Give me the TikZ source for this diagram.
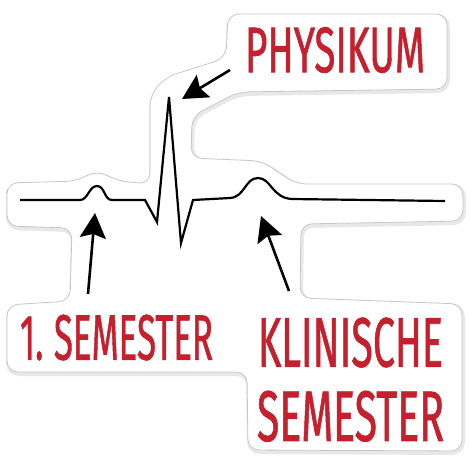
\documentclass[tikz,border=0pt]{standalone}
\usepackage{fontspec}
\setmainfont{Fira Sans}
\newfontfamily\handfont{Fira Sans}[FakeBold=1.2]
\usepackage{graphicx}
\usetikzlibrary{arrows.meta,positioning}
\definecolor{stickerred}{RGB}{197,32,46}
\tikzstyle{sticker}=[fill=white, draw=black!22, line width=0.8pt, rounded corners=11pt]
\tikzstyle{schatten}=[draw=black!9, line width=4pt, rounded corners=11pt]
\tikzstyle{wave}=[line width=2.2pt, draw=black, line join=miter]
\tikzstyle{pfeil}=[line width=2.6pt, -{Stealth[length=25pt,width=26pt,inset=4pt]}]
\tikzstyle{schrift}=[text=stickerred, inner sep=0pt, anchor=center, font=\handfont]
\newcommand{\stickerpath}[0]
{
  (7,200) -- (7,183) -- (78,181) -- (96,170) -- (118,181) -- (150,184) -- (150,95)
  -- (166,77) -- (226,58) -- (228,14) -- (447,14) -- (447,89) -- (238,92)
  -- (192,116) -- (191,158) -- (262,161) -- (296,184) -- (463,184) -- (463,221)
  -- (301,224) -- (300,298) -- (462,304) -- (462,451) -- (248,450) -- (247,372)
  -- (7,372) -- (7,305) -- (70,301) -- (72,228) -- (7,226) -- cycle
}

\begin{document}
\begin{tikzpicture}[x=1pt, y=-1pt]
	\useasboundingbox (0,0) rectangle (470,464);

	% sticker
	\draw[schatten] [shift={(1,2)}] \stickerpath;
	\draw[sticker] \stickerpath;

	% ecg
	\coordinate (start) at (20,200);
	\coordinate (pwave) at (97,186);
	\coordinate (q) at (157,222);
	\coordinate (rpeak) at (169,97);
	\coordinate (s) at (181,243);
	\coordinate (twave) at (258,178);
	\coordinate (ende) at (445,201);
	\draw[wave] (start) -- (80,200) .. controls (88,200) and (89,186) .. (pwave)
		.. controls (105,186) and (104,200) .. (112,200) -- (145,200) -- (q) -- (rpeak)
		-- (s) -- (193,200) -- (230,198) .. controls (245,197) and (245,178) .. (twave)
		.. controls (271,178) and (272,198) .. (292,199) -- (ende);

	% labels
	\node[schrift] (physikum) at (335,50) {\resizebox{180pt}{45pt}{PHYSIKUM}};
	\node[schrift] (erstes) at (116.5,337.5) {\resizebox{193pt}{45pt}{1.\kern3pt SEMESTER}};
	\node[schrift] (klinisch) at (350.5,342.5) {\resizebox{185pt}{49pt}{KLINISCHE}};
	\node[schrift, below=23pt of klinisch] (semester) {\resizebox{187pt}{50pt}{SEMESTER}};

	% arrows
	\coordinate (ptail) at (230,70);
	\coordinate (ptip) at (182,99);
	\coordinate (etail) at (88,294);
	\coordinate (etip) at (95,213);
	\coordinate (ktail) at (289,291);
	\coordinate (ktip) at (261,216);
	\draw[pfeil] (ptail) -- (ptip);
	\draw[pfeil] (etail) -- (etip);
	\draw[pfeil] (ktail) -- (ktip);

\end{tikzpicture}
\end{document}
